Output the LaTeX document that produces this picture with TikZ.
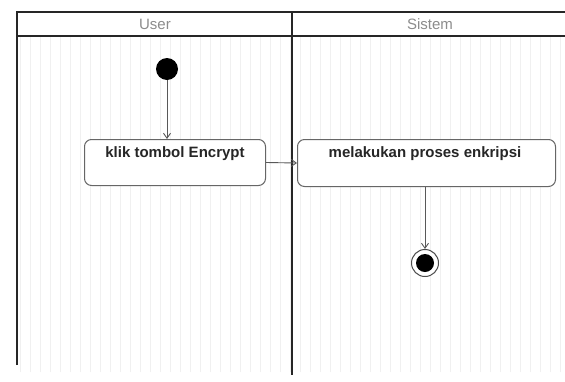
\documentclass[tikz,border=0pt]{standalone}
\usepackage{fontspec}
\setmainfont{Liberation Sans}
\usetikzlibrary{arrows.meta}
\begin{document}
\begin{tikzpicture}[x=1pt,y=-1pt,
  lane/.style={line width=1.6pt,draw=black!85},
  action/.style={draw=black!60,line width=1pt,rounded corners=7pt,fill=white,anchor=north west,inner sep=0pt},
  flow/.style={draw=black!65,line width=0.9pt,-{Straight Barb[length=5pt,width=7pt]}},
  hdr/.style={text=black!45,font=\fontsize{15}{17}\selectfont},
  lbl/.style={font=\bfseries\fontsize{15}{17}\selectfont,text=black!85}]
\useasboundingbox (0,0) rectangle (565,381);
\fill[white] (0,0) rectangle (565,381);
\draw[black!6,line width=0.5pt,step=10] (18,36) grid (565,372);
% lanes
\draw[lane] (17,365) -- (17,12) -- (565,12);
\draw[lane] (17,36) -- (565,36);
\draw[lane] (292,12) -- (292,375);
\node[hdr] (u) at (155,24) {User};
\node[hdr] (s) at (430,24) {Sistem};
% nodes
\node[circle,fill=black,minimum size=22pt,inner sep=0pt] (start) at (167,69) {};
\node[action,minimum width=181pt,minimum height=46pt] (a1) at (84,139) {};
\node[lbl] (t1) at (175,154) {klik tombol Encrypt};
\node[action,minimum width=258pt,minimum height=47pt] (a2) at (297,139) {};
\node[lbl] (t2) at (425,154) {melakukan proses enkripsi};
\node[circle,draw=black!70,line width=1pt,minimum size=27pt,inner sep=0pt,fill=white] (end) at (425,263) {};
\node[circle,fill=black,minimum size=18pt,inner sep=0pt] (endi) at (end) {};
% flows
\draw[flow] (start) -- (a1.north -| start);
\draw[flow] (a1.east) -- (a2.west);
\draw[flow] (a2.south -| end) -- (end);
\end{tikzpicture}
\end{document}
